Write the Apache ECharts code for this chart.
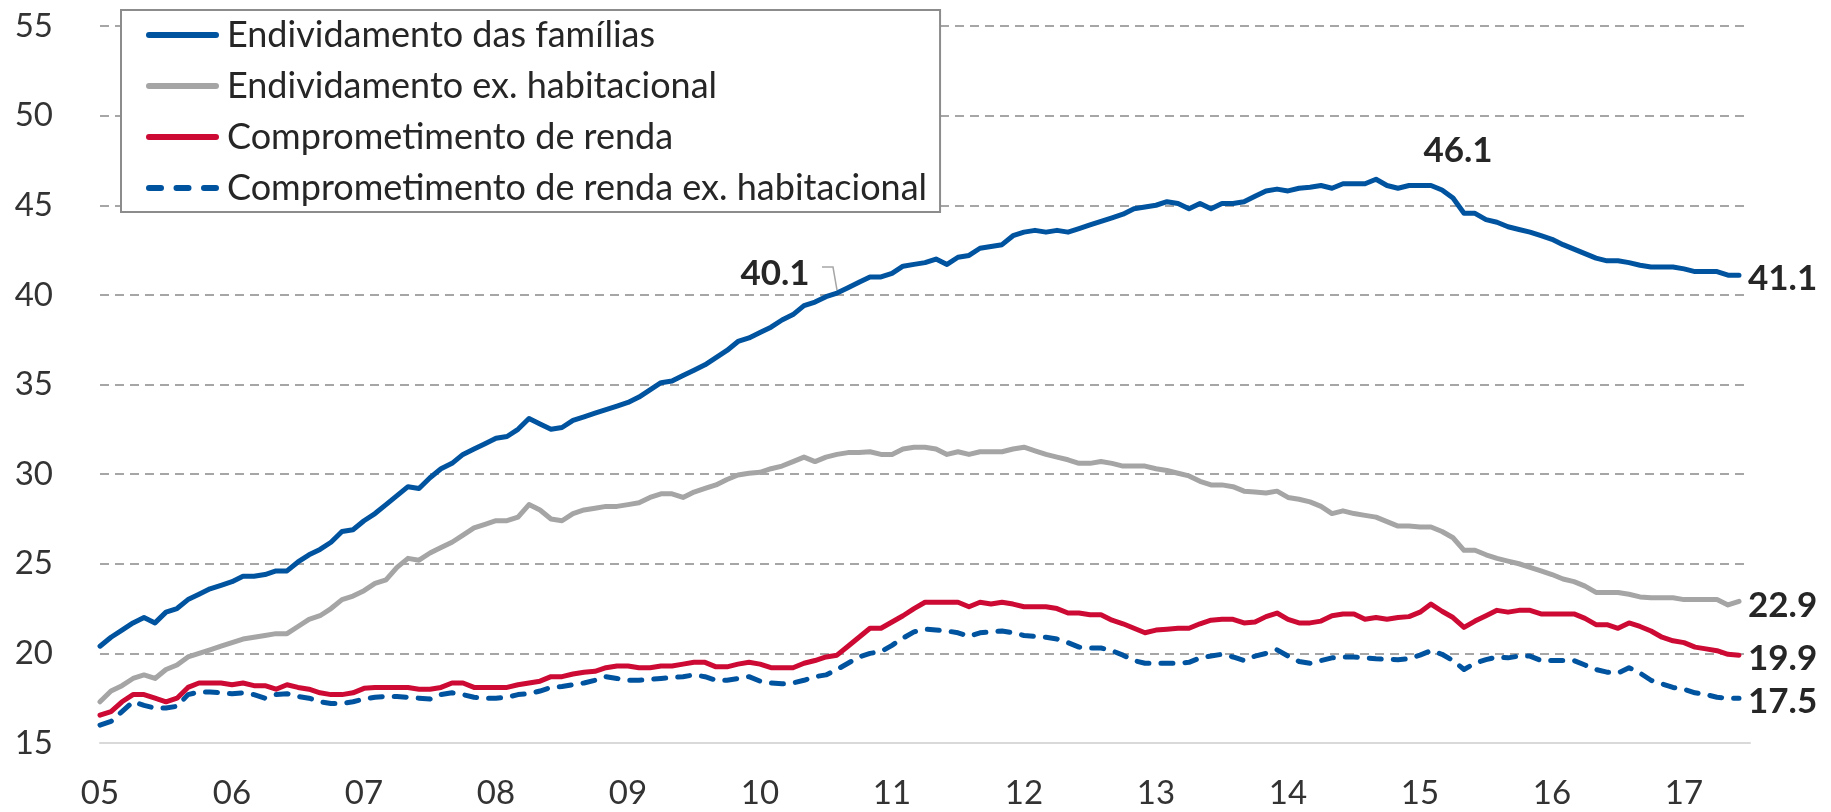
<!DOCTYPE html>
<html lang="pt-BR">
<head>
<meta charset="utf-8">
<title>Endividamento e comprometimento de renda das famílias</title>
<script src="https://cdn.jsdelivr.net/npm/echarts@6.0.0/dist/echarts.min.js"></script>
<style>
  html, body { margin: 0; padding: 0; background: #fff; }
  #grafico { width: 1831px; height: 812px; }
</style>
</head>
<body>
<div id="grafico"></div>
<script>
// anos do eixo x (jan de cada ano)
var anos = ['05', '06', '07', '08', '09', '10', '11', '12', '13', '14', '15', '16', '17'];

// séries mensais, jan/2005 a jun/2017 (% da renda)
var endividamento = [
  20.4, 20.9, 21.3, 21.7, 22.0, 21.7, 22.3, 22.5, 23.0, 23.3,
  23.6, 23.8, 24.0, 24.3, 24.3, 24.4, 24.6, 24.6, 25.1, 25.5,
  25.8, 26.2, 26.8, 26.9, 27.4, 27.8, 28.3, 28.8, 29.3, 29.2,
  29.8, 30.3, 30.6, 31.1, 31.4, 31.7, 32.0, 32.1, 32.5, 33.1,
  32.8, 32.5, 32.6, 33.0, 33.2, 33.4, 33.6, 33.8, 34.0, 34.3,
  34.7, 35.1, 35.2, 35.5, 35.8, 36.1, 36.5, 36.9, 37.4, 37.6,
  37.9, 38.2, 38.6, 38.9, 39.4, 39.6, 39.9, 40.1, 40.4, 40.7,
  41.0, 41.0, 41.2, 41.6, 41.7, 41.8, 42.0, 41.7, 42.1, 42.2,
  42.6, 42.7, 42.8, 43.3, 43.5, 43.6, 43.5, 43.6, 43.5, 43.7,
  43.9, 44.1, 44.3, 44.5, 44.8, 44.9, 45.0, 45.2, 45.1, 44.8,
  45.1, 44.8, 45.1, 45.1, 45.2, 45.5, 45.8, 45.9, 45.8, 45.95,
  46.0, 46.1, 45.95, 46.2, 46.2, 46.2, 46.45, 46.1, 45.95, 46.1,
  46.1, 46.1, 45.85, 45.4, 44.55, 44.55, 44.2, 44.05, 43.8, 43.65,
  43.5, 43.3, 43.1, 42.8, 42.55, 42.3, 42.05, 41.9, 41.9, 41.8,
  41.65, 41.55, 41.55, 41.55, 41.45, 41.3, 41.3, 41.3, 41.1, 41.1
];
var endividamentoExHab = [
  17.3, 17.9, 18.2, 18.6, 18.8, 18.6, 19.1, 19.35, 19.8, 20.0,
  20.2, 20.4, 20.6, 20.8, 20.9, 21.0, 21.1, 21.1, 21.5, 21.9,
  22.1, 22.5, 23.0, 23.2, 23.5, 23.9, 24.1, 24.8, 25.3, 25.2,
  25.6, 25.9, 26.2, 26.6, 27.0, 27.2, 27.4, 27.4, 27.6, 28.3,
  28.0, 27.5, 27.4, 27.8, 28.0, 28.1, 28.2, 28.2, 28.3, 28.4,
  28.7, 28.9, 28.9, 28.7, 29.0, 29.2, 29.4, 29.7, 29.95, 30.05,
  30.1, 30.3, 30.45, 30.7, 30.95, 30.7, 30.95, 31.1, 31.2, 31.2,
  31.25, 31.1, 31.1, 31.4, 31.5, 31.5, 31.4, 31.1, 31.25, 31.1,
  31.25, 31.25, 31.25, 31.4, 31.5, 31.3, 31.1, 30.95, 30.8, 30.6,
  30.6, 30.7, 30.6, 30.45, 30.45, 30.45, 30.3, 30.2, 30.05, 29.9,
  29.6, 29.4, 29.4, 29.3, 29.05, 29.0, 28.95, 29.05, 28.7, 28.6,
  28.45, 28.2, 27.8, 27.95, 27.8, 27.7, 27.6, 27.35, 27.1, 27.1,
  27.05, 27.05, 26.8, 26.45, 25.75, 25.75, 25.5, 25.3, 25.15, 25.0,
  24.8, 24.6, 24.4, 24.15, 24.0, 23.75, 23.4, 23.4, 23.4, 23.3,
  23.15, 23.1, 23.1, 23.1, 23.0, 23.0, 23.0, 23.0, 22.7, 22.9
];
var comprometimento = [
  16.55, 16.75, 17.3, 17.7, 17.7, 17.5, 17.3, 17.5, 18.1, 18.35,
  18.35, 18.35, 18.25, 18.35, 18.2, 18.2, 18.0, 18.25, 18.1, 18.0,
  17.8, 17.7, 17.7, 17.8, 18.05, 18.1, 18.1, 18.1, 18.1, 18.0,
  18.0, 18.1, 18.35, 18.35, 18.1, 18.1, 18.1, 18.1, 18.25, 18.35,
  18.45, 18.7, 18.7, 18.85, 18.95, 19.0, 19.2, 19.3, 19.3, 19.2,
  19.2, 19.3, 19.3, 19.4, 19.5, 19.5, 19.25, 19.25, 19.4, 19.5,
  19.4, 19.2, 19.2, 19.2, 19.45, 19.6, 19.8, 19.9, 20.4, 20.9,
  21.4, 21.4, 21.75, 22.1, 22.5, 22.85, 22.85, 22.85, 22.85, 22.6,
  22.85, 22.75, 22.85, 22.75, 22.6, 22.6, 22.6, 22.5, 22.25, 22.25,
  22.15, 22.15, 21.85, 21.65, 21.4, 21.15, 21.3, 21.35, 21.4, 21.4,
  21.65, 21.85, 21.9, 21.9, 21.7, 21.75, 22.05, 22.25, 21.9, 21.7,
  21.7, 21.8, 22.1, 22.2, 22.2, 21.9, 22.0, 21.9, 22.0, 22.05,
  22.3, 22.75, 22.35, 22.0, 21.45, 21.8, 22.1, 22.4, 22.3, 22.4,
  22.4, 22.2, 22.2, 22.2, 22.2, 21.95, 21.6, 21.6, 21.4, 21.7,
  21.5, 21.25, 20.9, 20.7, 20.6, 20.35, 20.25, 20.15, 19.95, 19.9
];
var comprometimentoExHab = [
  16.0, 16.2, 16.75, 17.3, 17.1, 16.95, 16.95, 17.05, 17.7, 17.85,
  17.85, 17.8, 17.75, 17.8, 17.7, 17.5, 17.7, 17.75, 17.6, 17.5,
  17.3, 17.2, 17.2, 17.3, 17.45, 17.55, 17.6, 17.6, 17.55, 17.5,
  17.45, 17.7, 17.8, 17.7, 17.55, 17.5, 17.5, 17.55, 17.7, 17.75,
  17.9, 18.1, 18.15, 18.25, 18.35, 18.5, 18.7, 18.6, 18.5, 18.5,
  18.55, 18.6, 18.65, 18.7, 18.8, 18.7, 18.5, 18.5, 18.6, 18.7,
  18.45, 18.35, 18.3, 18.35, 18.5, 18.7, 18.8, 19.1, 19.45, 19.8,
  20.0, 20.1, 20.45, 20.85, 21.2, 21.35, 21.3, 21.25, 21.15, 20.95,
  21.15, 21.2, 21.25, 21.15, 21.0, 20.95, 20.9, 20.8, 20.6, 20.35,
  20.3, 20.3, 20.15, 19.9, 19.6, 19.45, 19.45, 19.45, 19.45, 19.5,
  19.75, 19.85, 19.95, 19.8, 19.6, 19.85, 20.0, 20.2, 19.85, 19.55,
  19.45, 19.6, 19.75, 19.8, 19.8, 19.75, 19.7, 19.67, 19.65, 19.7,
  19.9, 20.15, 19.95, 19.6, 19.1, 19.45, 19.65, 19.8, 19.75, 19.85,
  19.85, 19.6, 19.6, 19.6, 19.6, 19.35, 19.1, 18.95, 18.9, 19.2,
  18.9, 18.5, 18.3, 18.1, 18.0, 17.8, 17.7, 17.55, 17.5, 17.5
];

var nomes = [
  'Endividamento das famílias',
  'Endividamento ex. habitacional',
  'Comprometimento de renda',
  'Comprometimento de renda ex. habitacional'
];
var cores = ['#00539F', '#A5A5A5', '#CC0A33', '#00539F'];

// pontos destacados no meio da linha
var destaques = [
  { idx: 67, offset: [-62, -19] },
  { idx: 121, offset: [27, -35] }
];

// eixo mensal (um mês a mais no fim para a margem direita)
var meses = [];
anos.forEach(function (a) {
  for (var m = 1; m <= 12; m++) meses.push(a + '/' + m);
});
meses = meses.slice(0, endividamento.length + 1);

var fonte = 'Lato, "Noto Sans", sans-serif';
var barra = 'path://M3,0H70A3,3 0 0 1 70,6H3A3,3 0 0 1 3,0Z';
var tracos = 'path://M3,0H15A3,3 0 0 1 15,6H3A3,3 0 0 1 3,0Z' +
  'M30.5,0H42.5A3,3 0 0 1 42.5,6H30.5A3,3 0 0 1 30.5,0Z' +
  'M58,0H70A3,3 0 0 1 70,6H58A3,3 0 0 1 58,0Z';

var rotuloFinal = {
  show: true,
  formatter: '{c}',
  fontFamily: fonte,
  fontSize: 35,
  fontWeight: 'bold',
  color: '#262626',
  distance: 9,
  offset: [0, 4]
};

function serie(i, dados, tracejada) {
  return {
    name: nomes[i],
    type: 'line',
    data: dados,
    symbol: 'none',
    z: 10 - i,
    lineStyle: {
      color: cores[i],
      width: 5,
      type: tracejada ? [12, 12] : 'solid',
      cap: 'round',
      join: 'round'
    },
    itemStyle: { color: cores[i] },
    endLabel: rotuloFinal
  };
}

var series = [
  serie(0, endividamento, false),
  serie(1, endividamentoExHab, false),
  serie(2, comprometimento, false),
  serie(3, comprometimentoExHab, true)
];

series[0].markPoint = {
  symbol: 'circle',
  symbolSize: 0,
  silent: true,
  label: {
    show: true,
    position: 'inside',
    formatter: '{c}',
    fontFamily: fonte,
    fontSize: 35,
    fontWeight: 'bold',
    color: '#262626'
  },
  data: destaques.map(function (d) {
    return {
      coord: [meses[d.idx], endividamento[d.idx]],
      value: endividamento[d.idx],
      label: { offset: d.offset }
    };
  })
};

var grafico = echarts.init(document.getElementById('grafico'));

grafico.setOption({
  animation: false,
  backgroundColor: '#fff',
  grid: { left: 100, right: 81, top: 26, bottom: 69 },
  legend: {
    orient: 'vertical',
    left: 121,
    top: 10,
    backgroundColor: '#fff',
    borderColor: '#8C8C8C',
    borderWidth: 2,
    borderRadius: 0,
    padding: [5, 13, 4, 25],
    itemGap: 11,
    itemWidth: 73,
    itemHeight: 6,
    selectedMode: false,
    itemStyle: { borderWidth: 0 },
    textStyle: {
      fontFamily: fonte,
      fontSize: 36,
      lineHeight: 40,
      color: '#262626',
      padding: [0, 0, 0, 3]
    },
    data: [
      { name: nomes[0], icon: barra },
      { name: nomes[1], icon: barra },
      { name: nomes[2], icon: barra },
      { name: nomes[3], icon: tracos }
    ]
  },
  xAxis: {
    type: 'category',
    data: meses,
    boundaryGap: false,
    axisLine: { show: true, onZero: false, lineStyle: { color: '#D9D9D9', width: 2 } },
    axisTick: { show: false },
    splitLine: { show: false },
    axisLabel: {
      interval: function (idx) { return idx % 12 === 0; },
      formatter: function (v) { return v.split('/')[0]; },
      fontFamily: fonte,
      fontSize: 33,
      color: '#333333',
      margin: 34
    }
  },
  yAxis: {
    type: 'value',
    min: 15,
    max: 55,
    interval: 5,
    axisLine: { show: false },
    axisTick: { show: false },
    axisLabel: {
      fontFamily: fonte,
      fontSize: 33,
      color: '#333333',
      margin: 47
    },
    splitLine: {
      lineStyle: { color: '#A6A6A6', width: 2, type: [9, 6] }
    }
  },
  series: series
});

// linha de chamada do rótulo 40.1
var p = grafico.convertToPixel({ seriesIndex: 0 }, [meses[67], endividamento[67]]);
grafico.setOption({
  graphic: [{
    type: 'polyline',
    silent: true,
    z: 20,
    shape: { points: [[p[0], p[1] - 3], [p[0] - 4, p[1] - 26], [p[0] - 15, p[1] - 26]] },
    style: { stroke: '#A6A6A6', lineWidth: 1.5, fill: null }
  }]
});
</script>
</body>
</html>
